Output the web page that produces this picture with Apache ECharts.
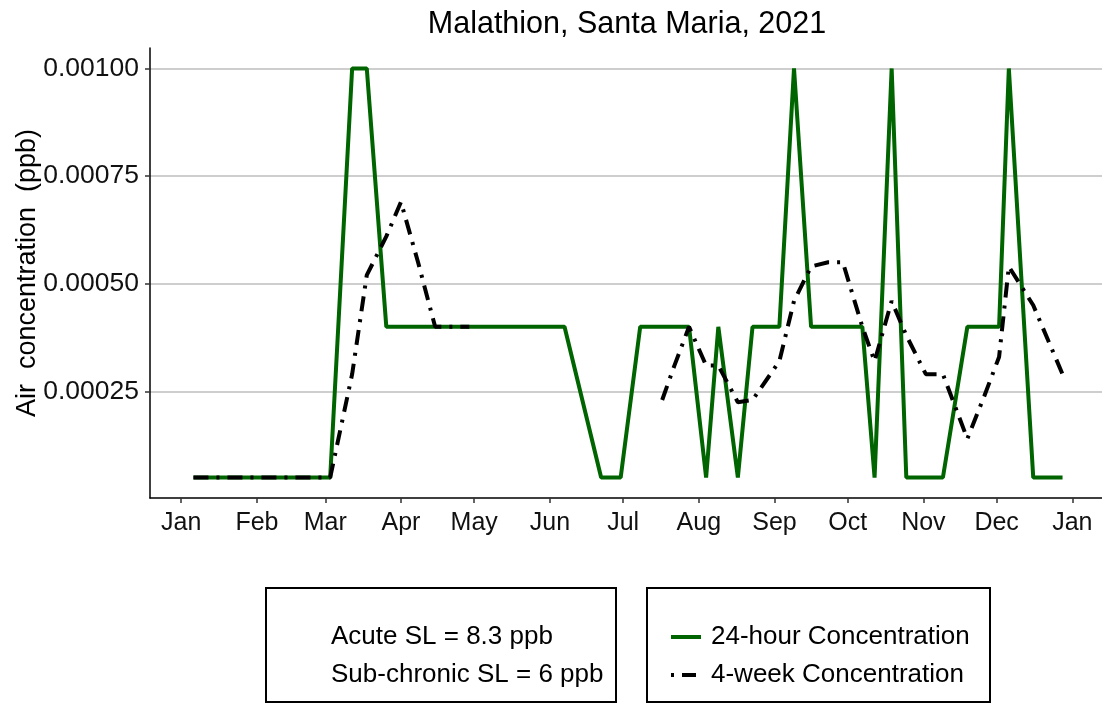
<!DOCTYPE html>
<html lang="en">
  <head>
    <meta charset="UTF-8" />
    <title>Malathion, Santa Maria, 2021</title>
    <script src="https://cdn.jsdelivr.net/npm/echarts@6.0.0/dist/echarts.min.js"></script>
    <style>
      body { margin: 0; background: #fff; }
    </style>
  </head>

  <body>
    <div id="main" style="width: 1102px; height: 704px"></div>

    <script type="text/javascript">
      // sample dates (2021)
      const sampleDates = [
        "2021-01-06", "2021-01-13", "2021-01-20", "2021-01-27", "2021-02-03",
        "2021-02-10", "2021-02-17", "2021-02-24", "2021-03-03", "2021-03-12",
        "2021-03-18", "2021-03-26", "2021-04-01", "2021-04-08", "2021-04-15",
        "2021-04-22", "2021-04-29", "2021-06-07", "2021-06-22", "2021-06-30",
        "2021-07-08", "2021-07-17", "2021-07-22", "2021-07-28", "2021-08-04",
        "2021-08-09", "2021-08-17", "2021-08-23", "2021-09-03", "2021-09-09",
        "2021-09-16", "2021-09-23", "2021-09-29", "2021-10-07", "2021-10-12",
        "2021-10-19", "2021-10-25", "2021-11-02", "2021-11-09", "2021-11-19",
        "2021-11-26", "2021-12-02", "2021-12-06", "2021-12-16", "2021-12-22",
        "2021-12-28",
      ];

      // 24-hour concentration (ppb)
      const conc24h = [
        0.00005, 0.00005, 0.00005, 0.00005, 0.00005,
        0.00005, 0.00005, 0.00005, 0.00005, 0.001,
        0.001, 0.0004, 0.0004, 0.0004, 0.0004,
        0.0004, 0.0004, 0.0004, 0.00005, 0.00005,
        0.0004, 0.0004, 0.0004, 0.0004, 0.00005,
        0.0004, 0.00005, 0.0004, 0.0004, 0.001,
        0.0004, 0.0004, 0.0004, 0.0004, 0.00005,
        0.001, 0.00005, 0.00005, 0.00005, 0.0004,
        0.0004, 0.0004, 0.001, 0.00005, 0.00005,
        0.00005,
      ];

      // 4-week concentration (ppb), null = no value
      const conc4wk = [
        0.00005, 0.00005, 0.00005, 0.00005, 0.00005,
        0.00005, 0.00005, 0.00005, 0.00005, 0.00029,
        0.00052, 0.00061, 0.00069, 0.00055, 0.0004,
        0.0004, 0.0004, null, null, null,
        null, 0.00023, 0.00031, 0.0004, 0.00031,
        0.00031, 0.000225, 0.00023, 0.00032, 0.00046,
        0.00054, 0.00055, 0.00055, 0.0004, 0.00032,
        0.00046, 0.00038, 0.00029, 0.00029, 0.00014,
        0.00024, 0.00033, 0.00054, 0.00045, 0.00037,
        0.00029,
      ];

      const monthLabels = ["Jan", "Feb", "Mar", "Apr", "May", "Jun", "Jul", "Aug", "Sep", "Oct", "Nov", "Dec", "Jan"];
      const yTicks = [0.00025, 0.0005, 0.00075, 0.001];
      const legendNotes = ["Acute SL = 8.3 ppb", "Sub-chronic SL = 6 ppb"];

      // x positions as days since 1 Jan 2021
      const DAY = 86400000;
      const jan1 = Date.UTC(2021, 0, 1);
      const toDay = (s) => (Date.parse(s) - jan1) / DAY;
      const monthTicks = monthLabels.map((m, i) => (Date.UTC(2021, i, 1) - jan1) / DAY);

      const font = "Liberation Sans, Arial, sans-serif";

      let myChart = echarts.init(document.getElementById("main"));

      let options = {
        animation: false,
        title: {
          text: "Malathion, Santa Maria, 2021",
          left: 622,
          top: 4,
          textAlign: "center",
          textStyle: { fontFamily: font, fontSize: 30.5, fontWeight: "normal", color: "#000" },
        },
        grid: { left: 150, right: -4, top: 48, bottom: 206, outerBoundsMode: "none" },
        xAxis: {
          type: "value",
          min: -12.8,
          max: 378.8,
          axisLine: { show: true, onZero: false, lineStyle: { color: "#000", width: 1.5 } },
          axisTick: { show: true, length: 5, customValues: monthTicks, lineStyle: { color: "#333", width: 1.5 } },
          axisLabel: {
            customValues: monthTicks,
            margin: 13,
            fontFamily: font,
            fontSize: 25,
            color: "#111",
            formatter: (val) => monthLabels[monthTicks.indexOf(val)] || "",
          },
          splitLine: { show: false },
        },
        yAxis: {
          type: "value",
          min: 0.0000025,
          max: 0.0010475,
          name: "Air  concentration  (ppb)",
          nameLocation: "middle",
          nameGap: 109,
          nameMoveOverlap: false,
          nameTextStyle: { fontFamily: font, fontSize: 27, color: "#000" },
          axisLine: { show: true, onZero: false, lineStyle: { color: "#000", width: 1.5 } },
          axisTick: { show: true, length: 5, customValues: yTicks, lineStyle: { color: "#333", width: 1.5 } },
          axisLabel: {
            customValues: yTicks,
            margin: 11,
            fontFamily: font,
            fontSize: 26.5,
            color: "#111",
            formatter: (v) => v.toFixed(5),
          },
          splitLine: { show: true, lineStyle: { color: "#bebebe", width: 1.5 } },
        },
        legend: [
          {
            data: legendNotes,
            orient: "vertical",
            left: 290,
            top: 618,
            itemWidth: 30,
            itemHeight: 14,
            itemGap: 10,
            selectedMode: false,
            itemStyle: { opacity: 0 },
            textStyle: { fontFamily: font, fontSize: 26, color: "#000", lineHeight: 28 },
          },
          {
            data: [
              { name: "24-hour Concentration" },
              { name: "4-week Concentration", lineStyle: { type: [3, 8, 14, 8] } },
            ],
            orient: "vertical",
            left: 664,
            top: 618,
            itemWidth: 30,
            itemHeight: 14,
            itemGap: 10,
            selectedMode: false,
            itemStyle: { opacity: 0 },
            lineStyle: { width: 4 },
            textStyle: { fontFamily: font, fontSize: 26, color: "#000", lineHeight: 28, padding: [0, 0, 0, 5] },
          },
        ],
        graphic: [
          { type: "rect", shape: { x: 266, y: 588, width: 350, height: 114 }, style: { fill: "none", stroke: "#000", lineWidth: 2 } },
          { type: "rect", shape: { x: 647, y: 588, width: 343, height: 114 }, style: { fill: "none", stroke: "#000", lineWidth: 2 } },
        ],
        series: [
          // legend-only entries for the screening levels
          { name: legendNotes[0], type: "line", data: [], color: "rgba(0,0,0,0)", showSymbol: false },
          { name: legendNotes[1], type: "line", data: [], color: "rgba(0,0,0,0)", showSymbol: false },
          {
            name: "24-hour Concentration",
            type: "line",
            data: sampleDates.map((d, i) => [toDay(d), conc24h[i]]),
            showSymbol: false,
            symbol: "none",
            color: "#006400",
            lineStyle: { color: "#006400", width: 4 },
          },
          {
            name: "4-week Concentration",
            type: "line",
            data: sampleDates.map((d, i) => [toDay(d), conc4wk[i]]),
            showSymbol: false,
            symbol: "none",
            connectNulls: false,
            color: "#000",
            lineStyle: { color: "#000", width: 4, type: [15, 8, 3, 8] },
          },
        ],
      };

      myChart.setOption(options);
    </script>
  </body>
</html>
